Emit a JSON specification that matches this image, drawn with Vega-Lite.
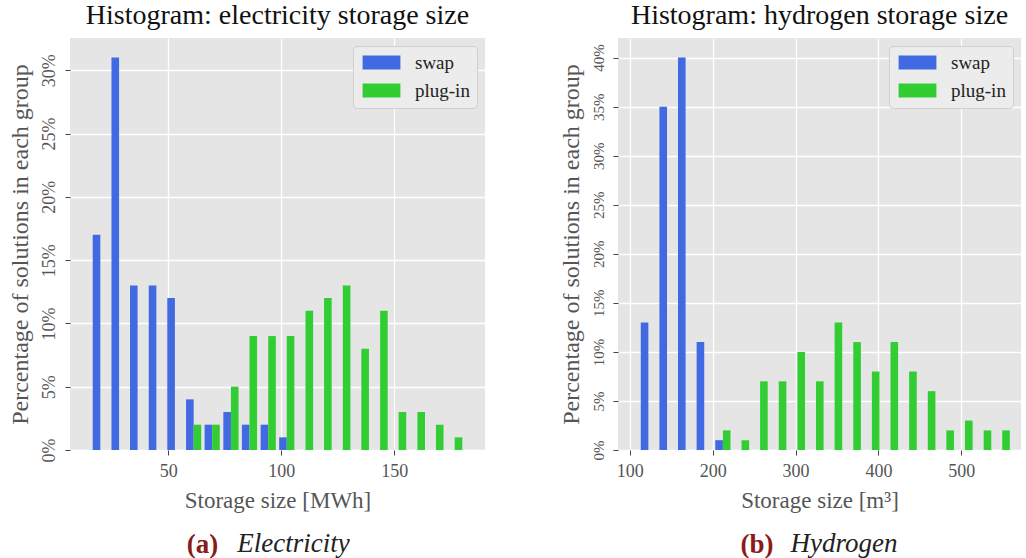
{
  "$schema": "https://vega.github.io/schema/vega-lite/v6.json",
  "padding": {"left": 8, "top": 2, "right": 0, "bottom": 0},
  "background": "white",
  "datasets": {
    "elec": [
      {"size": 19.9, "group": "swap", "pct": 17},
      {"size": 28.2, "group": "swap", "pct": 31},
      {"size": 36.4, "group": "swap", "pct": 13},
      {"size": 44.7, "group": "swap", "pct": 13},
      {"size": 52.9, "group": "swap", "pct": 12},
      {"size": 61.2, "group": "swap", "pct": 4},
      {"size": 69.4, "group": "swap", "pct": 2},
      {"size": 77.7, "group": "swap", "pct": 3},
      {"size": 85.9, "group": "swap", "pct": 2},
      {"size": 94.2, "group": "swap", "pct": 2},
      {"size": 102.4, "group": "swap", "pct": 1},
      {"size": 61.2, "group": "plug-in", "pct": 2},
      {"size": 69.4, "group": "plug-in", "pct": 2},
      {"size": 77.7, "group": "plug-in", "pct": 5},
      {"size": 85.9, "group": "plug-in", "pct": 9},
      {"size": 94.2, "group": "plug-in", "pct": 9},
      {"size": 102.4, "group": "plug-in", "pct": 9},
      {"size": 110.7, "group": "plug-in", "pct": 11},
      {"size": 118.9, "group": "plug-in", "pct": 12},
      {"size": 127.2, "group": "plug-in", "pct": 13},
      {"size": 135.4, "group": "plug-in", "pct": 8},
      {"size": 143.7, "group": "plug-in", "pct": 11},
      {"size": 151.9, "group": "plug-in", "pct": 3},
      {"size": 160.2, "group": "plug-in", "pct": 3},
      {"size": 168.4, "group": "plug-in", "pct": 2},
      {"size": 176.7, "group": "plug-in", "pct": 1}
    ],
    "hydro": [
      {"size": 122.4, "group": "swap", "pct": 13},
      {"size": 144.9, "group": "swap", "pct": 35},
      {"size": 167.3, "group": "swap", "pct": 40},
      {"size": 189.8, "group": "swap", "pct": 11},
      {"size": 212.3, "group": "swap", "pct": 1},
      {"size": 212.3, "group": "plug-in", "pct": 2},
      {"size": 234.8, "group": "plug-in", "pct": 1},
      {"size": 257.2, "group": "plug-in", "pct": 7},
      {"size": 279.7, "group": "plug-in", "pct": 7},
      {"size": 302.2, "group": "plug-in", "pct": 10},
      {"size": 324.6, "group": "plug-in", "pct": 7},
      {"size": 347.1, "group": "plug-in", "pct": 13},
      {"size": 369.6, "group": "plug-in", "pct": 11},
      {"size": 392.0, "group": "plug-in", "pct": 8},
      {"size": 414.5, "group": "plug-in", "pct": 11},
      {"size": 437.0, "group": "plug-in", "pct": 8},
      {"size": 459.5, "group": "plug-in", "pct": 6},
      {"size": 481.9, "group": "plug-in", "pct": 2},
      {"size": 504.4, "group": "plug-in", "pct": 3},
      {"size": 526.9, "group": "plug-in", "pct": 2},
      {"size": 549.3, "group": "plug-in", "pct": 2}
    ]
  },
  "config": {
    "font": "Liberation Serif",
    "view": {"fill": "#e5e5e5", "stroke": null},
    "axis": {
      "grid": true, "gridColor": "#ffffff", "gridWidth": 1.3, "domain": false,
      "tickColor": "#444444", "tickSize": 5, "tickWidth": 1,
      "labelFont": "Liberation Serif", "labelFontSize": 18, "labelColor": "#555555",
      "titleFont": "Liberation Serif", "titleFontSize": 24, "titleColor": "#555555", "titleFontWeight": "normal"
    },
    "axisY": {"labelAngle": 270, "labelAlign": "center", "labelBaseline": "bottom", "labelPadding": 7, "titlePadding": 8},
    "axisX": {"labelPadding": 7, "titlePadding": 9, "titleFontSize": 23},
    "legend": {
      "orient": "top-right", "offset": 8, "fillColor": "#ececec", "strokeColor": "#cfcfcf", "cornerRadius": 4,
      "padding": 7, "labelFont": "Liberation Serif", "labelFontSize": 19, "labelColor": "#222222",
      "symbolType": "M-2.7,-1L2.7,-1L2.7,1L-2.7,1Z", "symbolSize": 196, "symbolStrokeWidth": 0, "symbolOpacity": 1,
      "symbolOffset": 12, "labelOffset": 24, "rowPadding": 8
    },
    "title": {"fontWeight": "normal", "fontSize": 28, "color": "#111111", "font": "Liberation Serif"},
    "concat": {"spacing": 73}
  },
  "resolve": {"scale": {"color": "independent"}, "legend": {"color": "independent"}},
  "hconcat": [
    {
      "title": {"text": "Electricity", "orient": "bottom", "anchor": "middle", "fontStyle": "italic", "fontSize": 27, "color": "#222222", "dx": 47, "dy": -31},
      "resolve": {"scale": {"color": "independent"}, "legend": {"color": "independent"}},
      "vconcat": [
        {
          "title": {"text": "(a)", "orient": "bottom", "anchor": "middle", "fontWeight": "bold", "fontSize": 27, "color": "#8b1a1a", "dx": -44, "offset": 20},
          "resolve": {"scale": {"color": "independent"}, "legend": {"color": "independent"}},
          "vconcat": [
            {
              "width": 415, "height": 412,
              "title": {"text": "Histogram: electricity storage size", "frame": "group", "anchor": "middle", "offset": 8},
              "data": {"name": "elec"},
              "encoding": {
                "x": {"field": "size", "type": "quantitative", "scale": {"domain": [8.7, 187.9], "nice": false, "zero": false}, "axis": {"values": [50, 100, 150], "title": "Storage size [MWh]"}},
                "y": {"field": "pct", "type": "quantitative", "scale": {"domain": [0, 32.55], "nice": false}, "axis": {"values": [0, 5, 10, 15, 20, 25, 30], "labelExpr": "datum.value + '%'", "title": "Percentage of solutions in each group"}},
                "color": {"field": "group", "type": "nominal", "scale": {"domain": ["swap", "plug-in"], "range": ["#4169e1", "#32cd32"]}, "legend": {"title": null, "labelExpr": "datum.label + '  '"}}
              },
              "layer": [
                {"transform": [{"filter": "datum.group === 'swap'"}], "mark": {"type": "bar", "orient": "vertical", "width": 7.6, "xOffset": -3.8}},
                {"transform": [{"filter": "datum.group === 'plug-in'"}], "mark": {"type": "bar", "orient": "vertical", "width": 7.6, "xOffset": 3.8}}
              ]
            }
          ]
        }
      ]
    },
    {
      "title": {"text": "Hydrogen", "orient": "bottom", "anchor": "middle", "fontStyle": "italic", "fontSize": 27, "color": "#222222", "dx": 54, "dy": -31},
      "resolve": {"scale": {"color": "independent"}, "legend": {"color": "independent"}},
      "vconcat": [
        {
          "title": {"text": "(b)", "orient": "bottom", "anchor": "middle", "fontWeight": "bold", "fontSize": 27, "color": "#8b1a1a", "dx": -33, "offset": 20},
          "resolve": {"scale": {"color": "independent"}, "legend": {"color": "independent"}},
          "vconcat": [
            {
              "width": 403, "height": 412,
              "title": {"text": "Histogram: hydrogen storage size", "frame": "group", "anchor": "middle", "offset": 8},
              "data": {"name": "hydro"},
              "encoding": {
                "x": {"field": "size", "type": "quantitative", "scale": {"domain": [91.8, 565.9], "nice": false, "zero": false}, "axis": {"values": [100, 200, 300, 400, 500], "title": "Storage size [m³]"}},
                "y": {"field": "pct", "type": "quantitative", "scale": {"domain": [0, 42], "nice": false}, "axis": {"values": [0, 5, 10, 15, 20, 25, 30, 35, 40], "labelExpr": "datum.value + '%'", "labelFontSize": 15, "title": "Percentage of solutions in each group"}},
                "color": {"field": "group", "type": "nominal", "scale": {"domain": ["swap", "plug-in"], "range": ["#4169e1", "#32cd32"]}, "legend": {"title": null, "labelExpr": "datum.label + '  '"}}
              },
              "layer": [
                {"transform": [{"filter": "datum.group === 'swap'"}], "mark": {"type": "bar", "orient": "vertical", "width": 7.6, "xOffset": -3.8}},
                {"transform": [{"filter": "datum.group === 'plug-in'"}], "mark": {"type": "bar", "orient": "vertical", "width": 7.6, "xOffset": 3.8}}
              ]
            }
          ]
        }
      ]
    }
  ]
}
